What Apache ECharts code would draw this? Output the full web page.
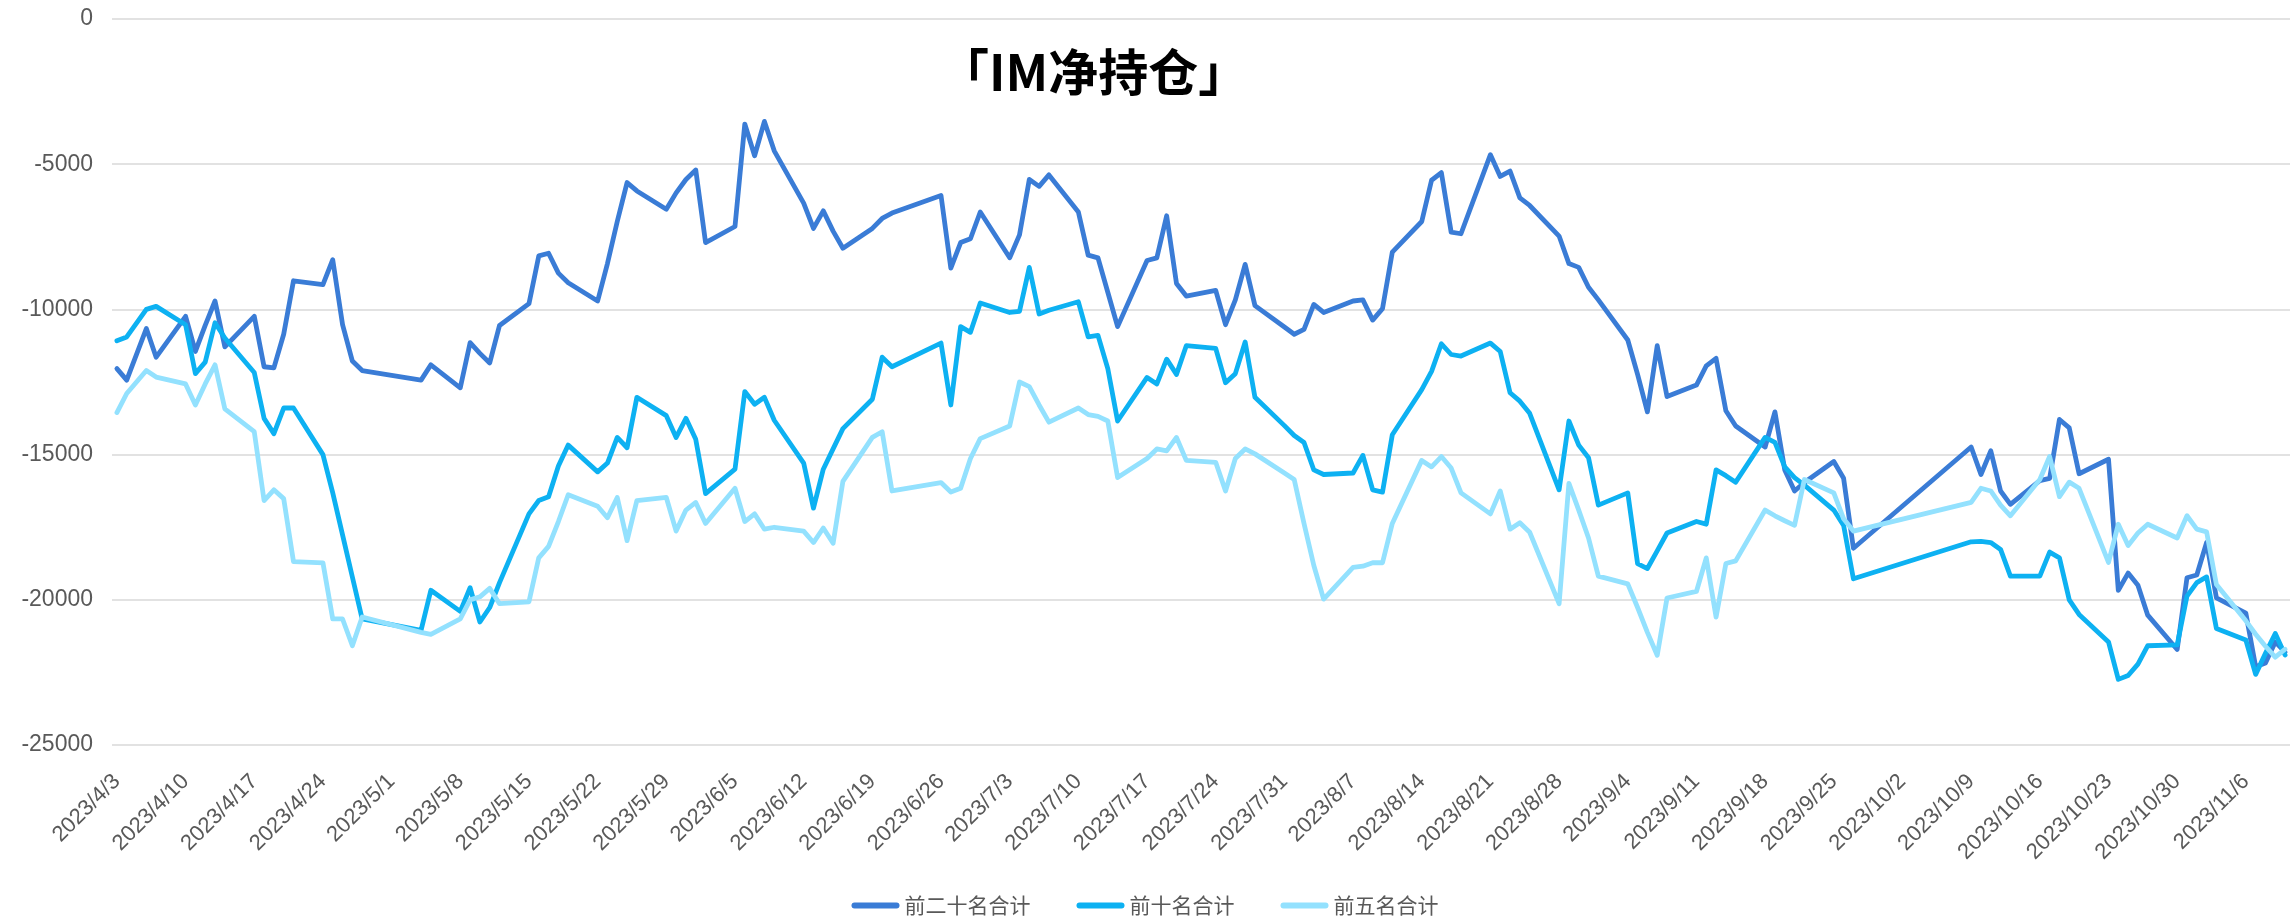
<!DOCTYPE html>
<html>
<head>
<meta charset="utf-8">
<script src="https://cdn.jsdelivr.net/npm/echarts@6/dist/echarts.min.js"></script>
<style>
  html, body { margin: 0; padding: 0; background: #fff; }
  #main { width: 2290px; height: 918px; }
</style>
</head>
<body>
<div id="main"></div>
<script>
// trading days (9/28 is missing in the source data)
var dates = [
  '2023/4/3','2023/4/4','2023/4/6','2023/4/7','2023/4/10','2023/4/11','2023/4/12','2023/4/13','2023/4/14',
  '2023/4/17','2023/4/18','2023/4/19','2023/4/20','2023/4/21','2023/4/24','2023/4/25','2023/4/26','2023/4/27','2023/4/28',
  '2023/5/4','2023/5/5','2023/5/8','2023/5/9','2023/5/10','2023/5/11','2023/5/12','2023/5/15','2023/5/16','2023/5/17',
  '2023/5/18','2023/5/19','2023/5/22','2023/5/23','2023/5/24','2023/5/25','2023/5/26','2023/5/29','2023/5/30','2023/5/31',
  '2023/6/1','2023/6/2','2023/6/5','2023/6/6','2023/6/7','2023/6/8','2023/6/9','2023/6/12','2023/6/13','2023/6/14',
  '2023/6/15','2023/6/16','2023/6/19','2023/6/20','2023/6/21','2023/6/26','2023/6/27','2023/6/28','2023/6/29','2023/6/30',
  '2023/7/3','2023/7/4','2023/7/5','2023/7/6','2023/7/7','2023/7/10','2023/7/11','2023/7/12','2023/7/13','2023/7/14',
  '2023/7/17','2023/7/18','2023/7/19','2023/7/20','2023/7/21','2023/7/24','2023/7/25','2023/7/26','2023/7/27','2023/7/28',
  '2023/7/31','2023/8/1','2023/8/2','2023/8/3','2023/8/4','2023/8/7','2023/8/8','2023/8/9','2023/8/10','2023/8/11',
  '2023/8/14','2023/8/15','2023/8/16','2023/8/17','2023/8/18','2023/8/21','2023/8/22','2023/8/23','2023/8/24','2023/8/25',
  '2023/8/28','2023/8/29','2023/8/30','2023/8/31','2023/9/1','2023/9/4','2023/9/5','2023/9/6','2023/9/7','2023/9/8',
  '2023/9/11','2023/9/12','2023/9/13','2023/9/14','2023/9/15','2023/9/18','2023/9/19','2023/9/20','2023/9/21','2023/9/22',
  '2023/9/25','2023/9/26','2023/9/27','2023/10/9','2023/10/10','2023/10/11','2023/10/12','2023/10/13','2023/10/16','2023/10/17',
  '2023/10/18','2023/10/19','2023/10/20','2023/10/23','2023/10/24','2023/10/25','2023/10/26','2023/10/27','2023/10/30','2023/10/31',
  '2023/11/1','2023/11/2','2023/11/3','2023/11/6','2023/11/7','2023/11/8','2023/11/9','2023/11/10'
];

var top20 = [
  -12040,-12435,-10659,-11646,-10238,-11448,-10550,-9711,-11290,
  -10238,-11975,-12015,-10856,-9014,-9145,-8290,-10527,-11777,-12106,
  -12435,-11909,-12699,-11146,-11514,-11843,-10553,-9803,-8158,-8066,
  -8751,-9080,-9711,-8422,-6974,-5632,-5921,-6553,-5987,-5526,
  -5197,-7698,-7145,-3618,-4710,-3526,-4539,-6342,-7211,-6606,
  -7303,-7895,-7211,-6869,-6684,-6079,-8580,-7698,-7566,-6645,
  -8224,-7435,-5526,-5763,-5368,-6645,-8132,-8224,-9409,-10593,
  -8316,-8224,-6777,-9106,-9540,-9343,-10527,-9672,-8448,-9869,
  -10606,-10856,-10685,-9830,-10106,-9711,-9672,-10369,-9974,-8027,
  -6974,-5553,-5290,-7343,-7395,-4671,-5421,-5237,-6158,-6421,
  -7474,-8422,-8553,-9238,-9672,-11054,-12238,-13528,-11251,-13001,
  -12606,-11948,-11685,-13488,-14015,-14738,-13528,-15528,-16252,-15962,
  -15238,-15817,-18225,-14738,-15686,-14870,-16252,-16712,-15897,-15817,
  -13791,-14080,-15660,-15160,-19673,-19081,-19502,-20529,-21713,-19239,
  -19147,-18028,-19936,-20463,-22305,-22174,-21450,-21800
];

var top10 = [
  -11080,-10948,-10000,-9895,-10527,-12212,-11817,-10461,-10987,
  -12172,-13752,-14278,-13396,-13396,-15000,-16318,-17765,-19213,-20660,
  -21055,-19673,-20397,-19581,-20765,-20266,-19410,-17041,-16581,-16449,
  -15396,-14673,-15594,-15291,-14409,-14765,-13028,-13659,-14409,-13751,
  -14475,-16344,-15502,-12830,-13264,-13028,-13817,-15291,-16844,-15502,
  -14804,-14107,-13093,-11646,-11975,-11159,-13291,-10593,-10790,-9777,
  -10106,-10066,-8553,-10158,-10027,-9738,-10948,-10896,-12041,-13844,
  -12343,-12567,-11712,-12238,-11251,-11343,-12527,-12212,-11120,-13028,
  -14002,-14344,-14581,-15528,-15686,-15633,-15028,-16212,-16291,-14317,
  -12764,-12133,-11185,-11553,-11606,-11159,-11448,-12869,-13159,-13580,
  -16212,-13844,-14673,-15107,-16739,-16318,-18752,-18923,-18318,-17699,
  -17304,-17396,-15528,-15725,-15949,-14409,-14580,-15423,-15791,-16054,
  -16910,-17436,-19278,-18002,-17989,-18028,-18265,-19186,-19186,-18357,
  -18555,-20002,-20502,-21450,-22740,-22608,-22213,-21582,-21555,-19871,
  -19410,-19213,-20989,-21384,-22568,-21845,-21160,-21900
];

var top5 = [
  -13554,-12896,-12106,-12330,-12567,-13291,-12567,-11909,-13422,
  -14212,-16581,-16212,-16515,-18686,-18725,-20660,-20660,-21582,-20594,
  -21121,-21187,-20660,-20002,-19897,-19607,-20134,-20068,-18555,-18160,
  -17305,-16384,-16779,-17173,-16476,-17963,-16581,-16476,-17634,-16910,
  -16647,-17370,-16160,-17305,-17041,-17568,-17502,-17634,-18028,-17528,
  -18055,-15923,-14409,-14212,-16252,-15962,-16291,-16160,-15133,-14449,
  -14015,-12501,-12659,-13291,-13883,-13396,-13620,-13686,-13844,-15791,
  -15133,-14804,-14870,-14409,-15199,-15265,-16252,-15133,-14804,-14975,
  -15633,-15857,-17370,-18818,-19976,-18884,-18844,-18725,-18725,-17370,
  -15199,-15423,-15067,-15462,-16318,-17041,-16252,-17568,-17344,-17673,
  -20134,-15989,-16910,-17871,-19186,-19450,-20266,-21121,-21911,-19937,
  -19713,-18555,-20594,-18752,-18660,-16910,-17107,-17278,-17436,-15857,
  -16318,-17212,-17634,-16647,-16160,-16252,-16739,-17107,-15857,-15067,
  -16449,-15949,-16160,-18712,-17397,-18134,-17700,-17397,-17871,-17107,
  -17568,-17660,-19476,-20725,-21186,-21600,-21976,-21700
];

var tickDates = [
  '2023/4/3','2023/4/10','2023/4/17','2023/4/24','2023/5/1','2023/5/8','2023/5/15','2023/5/22',
  '2023/5/29','2023/6/5','2023/6/12','2023/6/19','2023/6/26','2023/7/3','2023/7/10','2023/7/17',
  '2023/7/24','2023/7/31','2023/8/7','2023/8/14','2023/8/21','2023/8/28','2023/9/4','2023/9/11',
  '2023/9/18','2023/9/25','2023/10/2','2023/10/9','2023/10/16','2023/10/23','2023/10/30','2023/11/6'
];

var names = ['前二十名合计', '前十名合计', '前五名合计'];
var colors = ['#3A7CD6', '#0DB1F2', '#93E1FE'];

// x is counted in days from the first trading day
var DAY = 86400000;
var origin = Date.UTC(2023, 3, 3);
function toDay(s) {
  var p = s.split('/');
  return Math.round((Date.UTC(+p[0], +p[1] - 1, +p[2]) - origin) / DAY);
}
function dayLabel(n) {
  var d = new Date(origin + Math.round(n) * DAY);
  return d.getUTCFullYear() + '/' + (d.getUTCMonth() + 1) + '/' + d.getUTCDate();
}
function pairs(vals) {
  return dates.map(function (d, i) { return [toDay(d), vals[i]]; });
}

var labelFont = "'Liberation Sans', 'Noto Sans CJK SC', sans-serif";
var lastDay = toDay(dates[dates.length - 1]);

var myChart = echarts.init(document.getElementById('main'));

myChart.setOption({
  animation: false,
  backgroundColor: '#fff',
  color: colors,
  title: {
    text: '「IM净持仓」',
    left: 934,
    top: 42,
    textStyle: { fontSize: 50, fontWeight: 'bold', color: '#000', fontFamily: "'Noto Sans CJK SC', sans-serif" }
  },
  legend: {
    data: names,
    bottom: -3,
    left: 'center',
    itemWidth: 48,
    itemHeight: 6,
    itemGap: 46,
    icon: 'path://M3,0 L45,0 A3,3 0 0 1 45,6 L3,6 A3,3 0 0 1 3,0 Z',
    textStyle: { fontSize: 21, color: '#595959', fontFamily: "'Noto Sans CJK SC', sans-serif" }
  },
  grid: { left: 112, right: 0, top: 19, bottom: 173, containLabel: false },
  xAxis: {
    type: 'value',
    min: -0.5,
    max: lastDay + 0.5,
    axisLine: { show: false },
    axisTick: { show: false },
    splitLine: { show: false },
    axisLabel: {
      customValues: tickDates.map(toDay),
      rotate: 45,
      margin: 33,
      fontSize: 22,
      color: '#595959',
      fontFamily: labelFont,
      formatter: function (v) { return dayLabel(v); }
    }
  },
  yAxis: {
    type: 'value',
    min: -25000,
    max: 0,
    interval: 5000,
    axisLine: { show: false },
    axisTick: { show: false },
    splitLine: { lineStyle: { color: '#D9D9D9', width: 1.5 } },
    axisLabel: {
      margin: 19,
      fontSize: 23,
      color: '#595959',
      fontFamily: labelFont,
      formatter: function (v) { return String(v); }
    }
  },
  series: [top20, top10, top5].map(function (vals, i) {
    return {
      name: names[i],
      type: 'line',
      data: pairs(vals),
      showSymbol: false,
      symbol: 'none',
      lineStyle: { width: 4.8, color: colors[i], join: 'round', cap: 'round' },
      itemStyle: { color: colors[i] }
    };
  })
});
</script>
</body>
</html>
